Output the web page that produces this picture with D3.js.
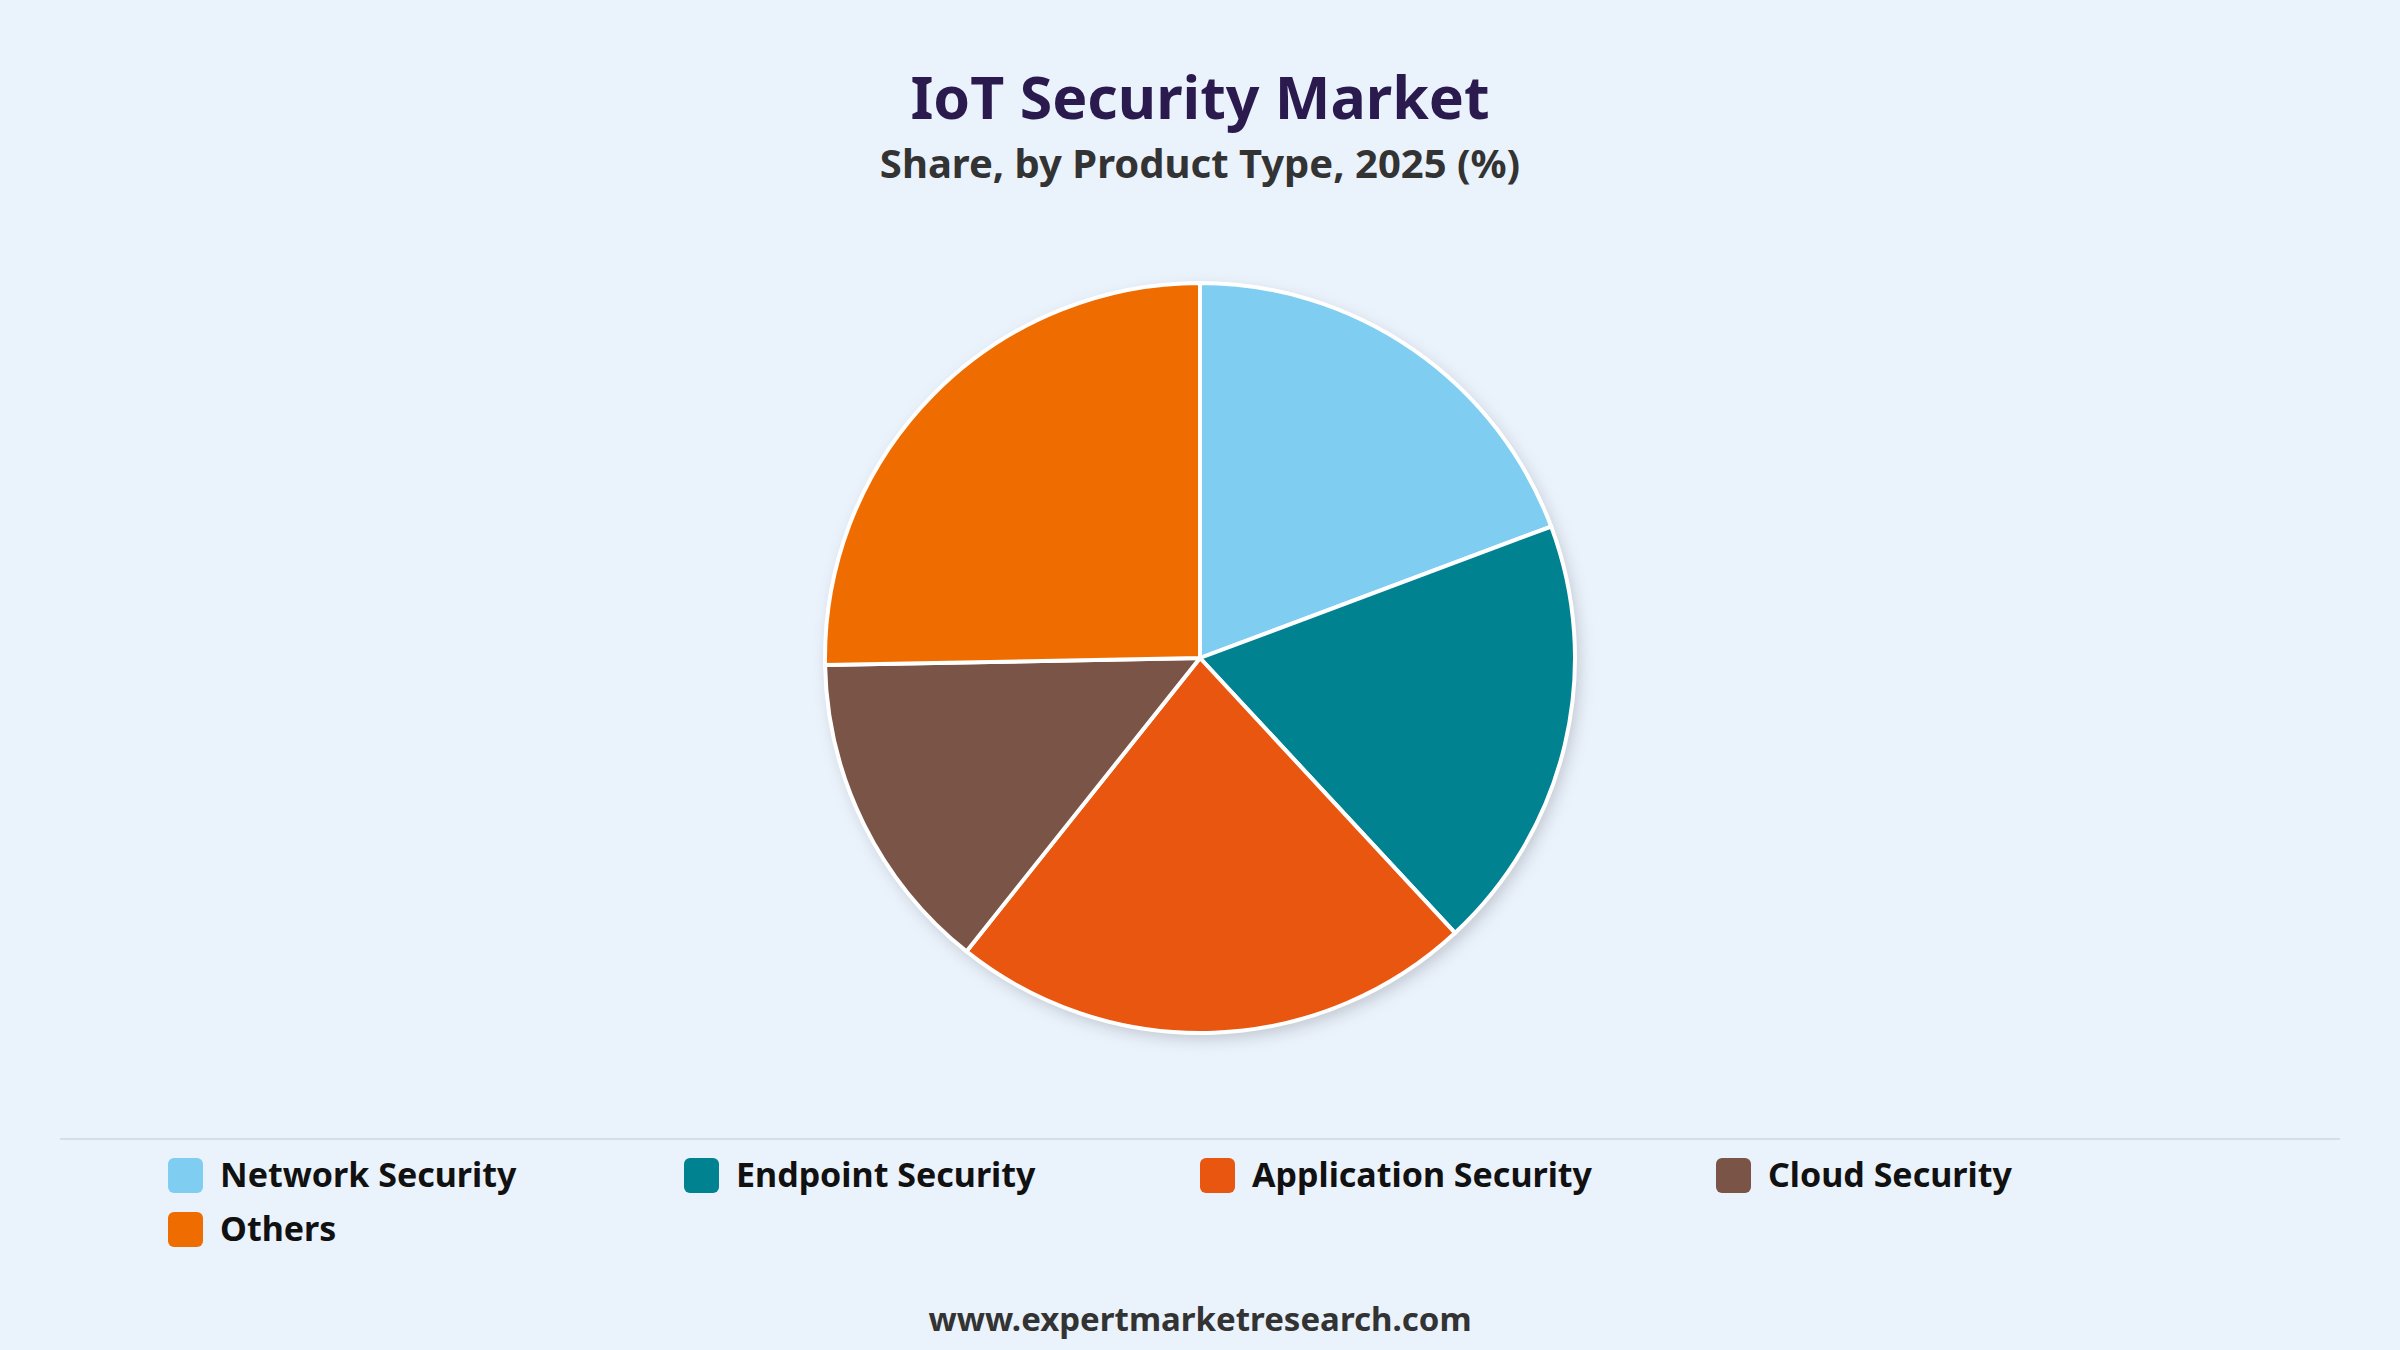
<!DOCTYPE html>
<html><head><meta charset="utf-8">
<script src="https://cdn.jsdelivr.net/npm/d3@7"></script>
<style>body{margin:0;background:#eaf2fc;}svg{display:block;font-family:"Noto Sans",sans-serif;}</style>
</head><body>
<svg id="c" width="2400" height="1350"></svg>
<script>
const categories = ["Network Security","Endpoint Security","Application Security","Cloud Security","Others"];
const values = [19.3, 18.8, 22.6, 14.0, 25.3];
const colors = ["#7fcef2","#008290","#e85610","#7a5446","#ef6c00"];

const svg = d3.select("#c");
svg.append("rect").attr("width",2400).attr("height",1350).attr("fill","#eaf2fc");
const defs = svg.append("defs");
const f = defs.append("filter").attr("id","sh").attr("x","-20%").attr("y","-20%").attr("width","140%").attr("height","140%");
f.append("feDropShadow").attr("dx",4).attr("dy",6).attr("stdDeviation",8).attr("flood-color","#000").attr("flood-opacity",0.18);

svg.append("text").attr("x",1200).attr("y",119).attr("text-anchor","middle")
  .attr("font-size",59).attr("font-weight",700).attr("fill","#2a1a4e").text("IoT Security Market");
svg.append("text").attr("x",1200).attr("y",178).attr("text-anchor","middle")
  .attr("font-size",40).attr("font-weight",700).attr("fill","#333").text("Share, by Product Type, 2025 (%)");

const pie = d3.pie().sort(null).value(d=>d)(values);
const arc = d3.arc().innerRadius(0).outerRadius(375);
const g = svg.append("g").attr("transform","translate(1200,658)");
g.append("circle").attr("r",375).attr("fill","#fff").attr("filter","url(#sh)");
g.selectAll("path").data(pie).join("path").attr("d",arc)
  .attr("fill",(d,i)=>colors[i]).attr("stroke","#fff").attr("stroke-width",4);

svg.append("line").attr("x1",60).attr("x2",2340).attr("y1",1139).attr("y2",1139).attr("stroke","#d6dde6").attr("stroke-width",2);

const leg = svg.append("g");
categories.forEach((c,i)=>{
  const col=i%4,row=Math.floor(i/4);
  const x=168+col*516, y=1175+row*54;
  leg.append("rect").attr("x",x).attr("y",y-17).attr("width",35).attr("height",35).attr("rx",6).attr("fill",colors[i]);
  leg.append("text").attr("x",x+52).attr("y",y+12).attr("font-size",34).attr("font-weight",700).attr("fill","#111").text(c);
});
svg.append("text").attr("x",1200).attr("y",1331).attr("text-anchor","middle")
  .attr("font-size",33).attr("font-weight",700).attr("fill","#333").text("www.expertmarketresearch.com");
</script></body></html>
